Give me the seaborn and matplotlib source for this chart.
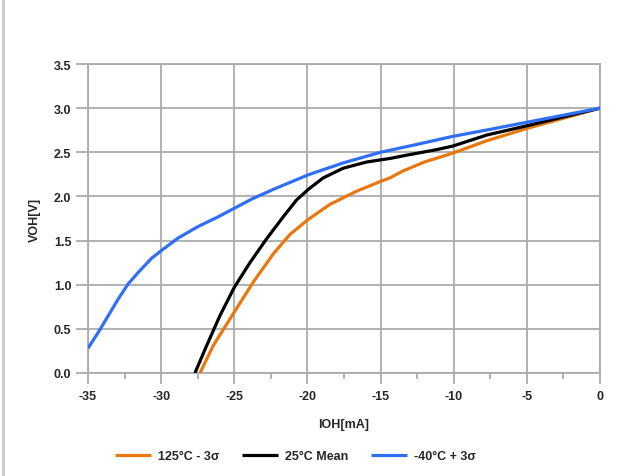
import seaborn as sns
import pandas as pd
import matplotlib.pyplot as plt
from matplotlib import font_manager
from matplotlib.lines import Line2D

# VOH vs IOH curves
ioh_hot = [-27.34, -26.44, -25.0, -23.7, -22.33, -21.19, -19.94, -18.46, -16.63, -15.0,
           -14.36, -13.45, -12.0, -10.07, -7.75, -5.0, -2.51, 0.0]
voh_hot = [0.0, 0.31, 0.69, 1.03, 1.35, 1.57, 1.74, 1.91, 2.06, 2.17,
           2.21, 2.29, 2.39, 2.49, 2.63, 2.77, 2.885, 3.0]

ioh_mean = [-27.69, -26.89, -25.98, -25.0, -23.93, -22.79, -21.65, -20.74, -19.94, -18.92,
            -17.55, -15.95, -14.36, -13.45, -11.17, -10.07, -7.75, -5.0, -2.51, 0.0]
voh_mean = [0.0, 0.31, 0.65, 0.97, 1.25, 1.52, 1.77, 1.96, 2.08, 2.21,
            2.32, 2.39, 2.43, 2.46, 2.53, 2.57, 2.695, 2.80, 2.90, 3.0]

ioh_cold = [-35.0, -34.3, -33.61, -32.93, -32.25, -31.56, -30.65, -29.96, -28.83, -27.46,
            -26.09, -24.95, -23.81, -22.33, -19.94, -17.55, -15.0, -12.5, -10.07, -7.5,
            -5.0, -2.5, 0.0]
voh_cold = [0.28, 0.46, 0.65, 0.84, 1.01, 1.14, 1.30, 1.39, 1.53, 1.66,
            1.77, 1.87, 1.97, 2.08, 2.245, 2.38, 2.50, 2.59, 2.68, 2.76,
            2.84, 2.92, 3.0]

labels = ['125°C - 3σ', '25°C Mean', '-40°C + 3σ']
colors = ['#E8780E', '#000000', '#2F6FF5']

df = pd.concat([
    pd.DataFrame({'IOH': ioh_hot, 'VOH': voh_hot, 'series': labels[0]}),
    pd.DataFrame({'IOH': ioh_mean, 'VOH': voh_mean, 'series': labels[1]}),
    pd.DataFrame({'IOH': ioh_cold, 'VOH': voh_cold, 'series': labels[2]}),
])

sns.set_style('white')

# pick an Arial-like family that really has a bold face installed
family = 'DejaVu Sans'
for name in ['Liberation Sans', 'Arimo', 'Roboto', 'Noto Sans', 'Open Sans', 'Lato']:
    path = font_manager.findfont(font_manager.FontProperties(family=name, weight='bold'),
                                 fallback_to_default=False)
    if 'bold' in path.lower():
        family = name
        break

plt.rcParams['font.family'] = [family, 'DejaVu Sans']
plt.rcParams['font.weight'] = 'bold'
plt.rcParams['axes.labelweight'] = 'bold'
plt.rcParams['axes.unicode_minus'] = False

fig = plt.figure(figsize=(6.24, 4.77), dpi=100)
ax = fig.add_axes([88 / 624, 1 - 374 / 477, 512 / 624, 309 / 477])

sns.lineplot(data=df, x='IOH', y='VOH', hue='series', palette=colors,
             hue_order=labels, linewidth=2.3, sort=False, estimator=None,
             solid_joinstyle='round', solid_capstyle='butt', ax=ax, zorder=3)

ax.set_xlim(-35, 0)
ax.set_ylim(0, 3.5)
ax.set_xticks(range(-35, 1, 5))
ax.set_xticks([-32.5, -27.5, -22.5, -17.5, -12.5, -7.5, -2.5], minor=True)
ax.set_yticks([0, 0.5, 1.0, 1.5, 2.0, 2.5, 3.0, 3.5])
ax.set_yticklabels([f'{v:.1f}' for v in ax.get_yticks()])

ax.grid(True, which='major', color='#ABABAB', linewidth=1.3)
for s in ax.spines.values():
    s.set_color('#ABABAB')
    s.set_linewidth(1.3)

ax.tick_params(axis='x', which='major', direction='out', length=8, width=1.3,
               color='#ABABAB', labelsize=9, pad=4, bottom=True)
ax.tick_params(axis='x', which='minor', direction='out', length=4, width=1.3,
               color='#ABABAB', bottom=True)
ax.tick_params(axis='y', which='major', direction='out', length=9, width=1.3,
               color='#ABABAB', labelsize=9, pad=3, left=True)
for t in ax.get_xticklabels() + ax.get_yticklabels():
    t.set_fontweight('bold')

ax.set_xlabel('IOH[mA]', fontsize=9, fontweight='bold', labelpad=12)
ax.set_ylabel('VOH[V]', fontsize=9, fontweight='bold', labelpad=9)

ax.legend(loc='center', bbox_to_anchor=(0.405, -0.269), ncol=3, frameon=False,
          prop={'weight': 'bold', 'size': 9},
          handlelength=2.9, columnspacing=1.85, handletextpad=0.5)

# thin gray border line at the left edge of the figure
fig.add_artist(Line2D([3 / 624, 3 / 624], [0, 1], color='#C8C8C8',
                      linewidth=2, transform=fig.transFigure))

fig.savefig('out.png', dpi=100)
